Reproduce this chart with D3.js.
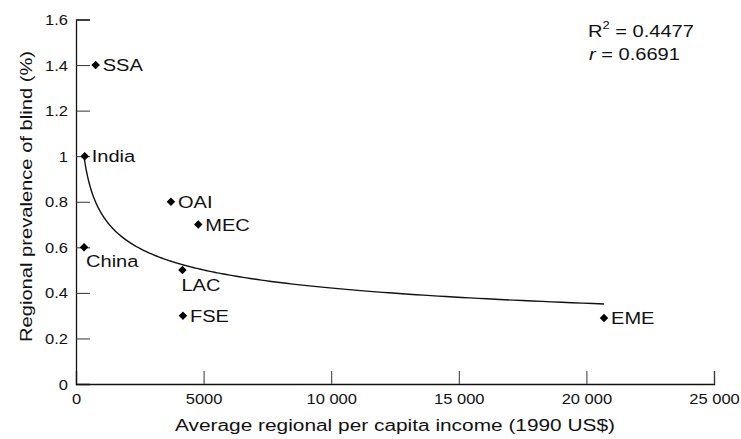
<!DOCTYPE html>
<html><head><meta charset="utf-8">
<script src="https://cdn.jsdelivr.net/npm/d3@7"></script>
<style>body{margin:0;background:#fff}svg{display:block}text{font-family:"Liberation Sans",Arial,sans-serif;fill:#111}</style>
</head><body><svg id="c" width="741" height="439"></svg>
<script>
const regions = ["SSA","India","China","OAI","MEC","LAC","FSE","EME"];
const income = [770, 340, 315, 3720, 4790, 4170, 4190, 20690];
const prevalence = [1.4, 1.0, 0.6, 0.8, 0.7, 0.5, 0.3, 0.29];
const xTicks = [0, 5000, 10000, 15000, 20000, 25000];
const yTicks = [0, 0.2, 0.4, 0.6, 0.8, 1, 1.2, 1.4, 1.6];
const statsText = ["0.4477", "0.6691"];

const SX = 1.18; // horizontal stretch of the reference lettering
const svg = d3.select("#c");
const x = d3.scaleLinear().domain([0, 25000]).range([76, 714]);
const y = d3.scaleLinear().domain([0, 1.6]).range([384, 19.5]);
const fmtX = v => v >= 10000 ? (Math.floor(v / 1000) + " 000") : String(v);

// axes
const xAxis = d3.axisBottom(x).tickValues(xTicks).tickSize(-13).tickPadding(0).tickFormat(fmtX);
const gx = svg.append("g").attr("transform", "translate(0,384)").call(xAxis);
gx.select(".domain").attr("stroke", "#111").attr("stroke-width", 1.3);
gx.selectAll(".tick line").attr("stroke", "#333").attr("stroke-width", 1);
gx.selectAll(".tick text").attr("font-size", 14).attr("y", 20).attr("dy", 0)
  .attr("transform", `scale(${SX},1)`)
  .attr("font-family", "Liberation Sans, Arial, sans-serif").attr("fill", "#111");
gx.selectAll(".tick").filter(d => d === 0).select("line").remove();

const yAxis = d3.axisLeft(y).tickValues(yTicks).tickSize(-14).tickPadding(8)
  .tickFormat(d => d === 0 ? "0" : (d === 1 ? "1" : d3.format(".1f")(d)));
const gy = svg.append("g").attr("transform", "translate(76,0)").call(yAxis);
gy.select(".domain").attr("stroke", "#111").attr("stroke-width", 1.3);
gy.selectAll(".tick line").attr("stroke", "#333").attr("stroke-width", 1);
gy.selectAll(".tick text").attr("font-size", 14).attr("x", -8 / SX).attr("dy", "0.36em")
  .attr("transform", `scale(${SX},1)`)
  .attr("font-family", "Liberation Sans, Arial, sans-serif").attr("fill", "#111");
gy.selectAll(".tick").filter(d => d === 0).select("line").remove();

// power regression y = c * x^k fit on log-log
const lx = income.map(Math.log), ly = prevalence.map(Math.log);
const mx = d3.mean(lx), my = d3.mean(ly);
let sxy = 0, sxx = 0;
lx.forEach((v, i) => { sxy += (v - mx) * (ly[i] - my); sxx += (v - mx) ** 2; });
const k = sxy / sxx, lc = my - k * mx;
const [x0, x1] = d3.extent(income);
const curvePts = d3.range(0, 201).map(i => { const xv = x0 * Math.pow(x1 / x0, i / 200); return [xv, Math.exp(lc) * Math.pow(xv, k)]; });
svg.append("path").attr("d", d3.line().x(d => x(d[0])).y(d => y(d[1]))(curvePts))
  .attr("fill", "none").attr("stroke", "#111").attr("stroke-width", 1.4);

// points
const sym = d3.symbol().type(d3.symbolDiamond2 || d3.symbolDiamond).size(46);
svg.selectAll("path.pt").data(regions).join("path").attr("class", "pt")
  .attr("transform", (d, i) => `translate(${x(income[i])},${y(prevalence[i])})`)
  .attr("d", sym).attr("fill", "#000");

const below = {China: [2, 20], LAC: [-1, 21]};
svg.selectAll("g.lbl").data(regions).join("g").attr("class", "lbl")
  .attr("transform", (d, i) => `translate(${x(income[i]) + (below[d] ? below[d][0] : 7)},${y(prevalence[i]) + (below[d] ? below[d][1] : 6)}) scale(${SX},1)`)
  .append("text").attr("font-size", 17).text(d => d);

// stats
const st = svg.append("g").attr("transform", `translate(588,37) scale(${SX},1)`).append("text").attr("font-size", 17);
st.append("tspan").text("R");
st.append("tspan").attr("font-size", 11).attr("dy", -8).text("2");
st.append("tspan").attr("dy", 8).text(" = " + statsText[0]);
const st2 = svg.append("g").attr("transform", `translate(589,60) scale(${SX},1)`).append("text").attr("font-size", 17);
st2.append("tspan").attr("font-style", "italic").text("r");
st2.append("tspan").text(" = " + statsText[1]);

// titles
svg.append("text").attr("x", 175).attr("y", 431).attr("font-size", 16)
  .attr("textLength", 440).attr("lengthAdjust", "spacingAndGlyphs")
  .text("Average regional per capita income (1990 US$)");
svg.append("text").attr("transform", "translate(32,342) rotate(-90)").attr("font-size", 16)
  .attr("textLength", 291).attr("lengthAdjust", "spacingAndGlyphs")
  .text("Regional prevalence of blind (%)");
</script></body></html>
